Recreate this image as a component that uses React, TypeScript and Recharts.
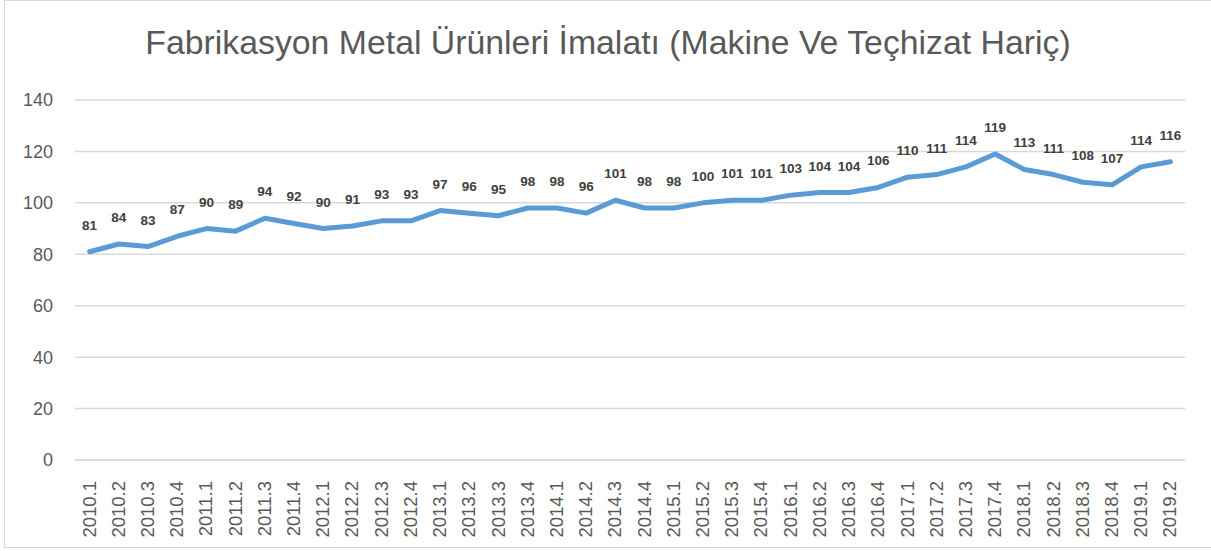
import { CartesianGrid, LabelList, Line, LineChart, XAxis, YAxis } from 'recharts'

const quarters = [
  '2010.1', '2010.2', '2010.3', '2010.4',
  '2011.1', '2011.2', '2011.3', '2011.4',
  '2012.1', '2012.2', '2012.3', '2012.4',
  '2013.1', '2013.2', '2013.3', '2013.4',
  '2014.1', '2014.2', '2014.3', '2014.4',
  '2015.1', '2015.2', '2015.3', '2015.4',
  '2016.1', '2016.2', '2016.3', '2016.4',
  '2017.1', '2017.2', '2017.3', '2017.4',
  '2018.1', '2018.2', '2018.3', '2018.4',
  '2019.1', '2019.2',
]

const index = [
  81, 84, 83, 87,
  90, 89, 94, 92,
  90, 91, 93, 93,
  97, 96, 95, 98,
  98, 96, 101, 98,
  98, 100, 101, 101,
  103, 104, 104, 106,
  110, 111, 114, 119,
  113, 111, 108, 107,
  114, 116,
]

const yTicks = [0, 20, 40, 60, 80, 100, 120, 140]

const title = 'Fabrikasyon Metal Ürünleri İmalatı (Makine Ve Teçhizat Hariç)'

const data = quarters.map((q, i) => ({ q, value: index[i] }))

const font = '"Liberation Sans", Arial, sans-serif'

function QuarterTick({ x, y, payload }: any) {
  return (
    <text
      x={x}
      y={y}
      transform={`rotate(-90, ${x}, ${y})`}
      dx={-13}
      dy={6}
      textAnchor="end"
      fill="#595959"
      fontSize={18.5}
      fontFamily={font}
    >
      {payload.value}
    </text>
  )
}

function ValueLabel({ x, y, value }: any) {
  return (
    <text x={x} y={y - 22} textAnchor="middle" fill="#404040" fontSize={13.5} fontWeight="bold" fontFamily={font}>
      {value}
    </text>
  )
}

export default function App() {
  return (
    <div style={{ position: 'absolute', left: 0, top: 0, width: 1211, height: 551, background: '#fff', overflow: 'hidden' }}>
      <div
        style={{
          position: 'absolute',
          left: 4,
          top: 0,
          width: 1220,
          height: 548,
          border: '1px solid #d9d9d9',
          boxSizing: 'border-box',
        }}
      />
      <div
        style={{
          position: 'absolute',
          left: 0,
          top: 23,
          width: 1216,
          textAlign: 'center',
          fontFamily: font,
          fontSize: 33.8,
          color: '#595959',
          whiteSpace: 'nowrap',
        }}
      >
        {title}
      </div>
      <div style={{ position: 'absolute', left: 0, top: 0 }}>
        <LineChart width={1211} height={551} data={data} margin={{ top: 100, right: 26, bottom: 0, left: 0 }}>
          <CartesianGrid vertical={false} stroke="#d9d9d9" strokeWidth={1.5} />
          <XAxis
            dataKey="q"
            interval={0}
            height={91}
            padding={{ left: 14.6, right: 14.6 }}
            axisLine={{ stroke: '#d9d9d9', strokeWidth: 1.5 }}
            tickLine={false}
            tick={<QuarterTick />}
          />
          <YAxis
            width={75}
            domain={[0, 140]}
            ticks={yTicks}
            axisLine={false}
            tickLine={false}
            tickSize={0}
            tickMargin={22}
            tick={{ fill: '#595959', fontSize: 18, fontFamily: font }}
          />
          <Line
            dataKey="value"
            stroke="#5b9bd5"
            strokeWidth={5}
            dot={false}
            isAnimationActive={false}
            strokeLinejoin="round"
            strokeLinecap="round"
          >
            <LabelList dataKey="value" content={<ValueLabel />} />
          </Line>
        </LineChart>
      </div>
    </div>
  )
}
